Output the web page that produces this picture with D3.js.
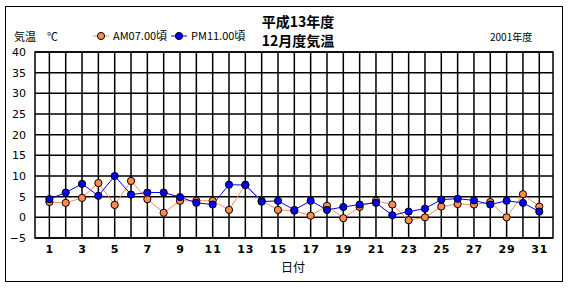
<!DOCTYPE html>
<html lang="ja">
<head>
<meta charset="UTF-8">
<title>12月度気温</title>
<script src="https://d3js.org/d3.v7.min.js"></script>
<style>
  body { margin: 0; background: #fff; }
  text { font-family: "Noto Sans CJK JP", "DejaVu Sans", sans-serif; fill: #000; }
</style>
</head>
<body>
<div id="chart"></div>
<script>
  // days of December
  const days = d3.range(1, 32);
  const amTemps = [3.7, 3.5, 4.7, 8.3, 3.0, 8.8, 4.4, 1.1, 4.0, 4.0,
                   4.0, 1.8, 7.9, 4.0, 1.8, 1.6, 0.4, 2.8, -0.2, 2.5,
                   4.0, 3.1, -0.7, 0.0, 2.6, 3.2, 3.1, 3.7, 0.0, 5.6, 2.6];
  const pmTemps = [4.4, 6.0, 8.1, 5.2, 10.0, 5.5, 6.0, 6.0, 4.9, 3.5,
                   3.1, 7.9, 7.8, 3.8, 4.0, 1.8, 4.0, 1.8, 2.5, 3.1,
                   3.5, 0.5, 1.4, 2.1, 4.3, 4.5, 4.1, 3.1, 4.0, 3.5, 1.4];
  const yTicks = [-5, 0, 5, 10, 15, 20, 25, 30, 35, 40];
  const xLabels = days.filter(d => d % 2 === 1);

  const W = 570, H = 290;
  const svg = d3.select("#chart").append("svg").attr("width", W).attr("height", H);

  // outer frame
  svg.append("rect").attr("x", 5.5).attr("y", 6.5).attr("width", 557).attr("height", 275)
    .attr("fill", "none").attr("stroke", "#000").attr("stroke-width", 1);

  const x = d3.scaleLinear().domain([0.12, 31.84]).range([35, 553]);
  const y = d3.scaleLinear().domain([-5, 40]).range([238, 52]);

  const g = svg.append("g");

  // grid
  g.selectAll(".hg").data(yTicks).join("line")
    .attr("x1", x.range()[0]).attr("x2", x.range()[1])
    .attr("y1", d => y(d)).attr("y2", d => y(d))
    .attr("stroke", "#000").attr("stroke-width", 1.5);
  g.selectAll(".vg").data(days).join("line")
    .attr("x1", d => x(d)).attr("x2", d => x(d))
    .attr("y1", y(40)).attr("y2", y(-5))
    .attr("stroke", "#000").attr("stroke-width", 1.5);
  g.append("rect").attr("x", x.range()[0]).attr("y", y(40))
    .attr("width", x.range()[1] - x.range()[0]).attr("height", y(-5) - y(40))
    .attr("fill", "none").attr("stroke", "#000").attr("stroke-width", 1.5);

  // y axis labels
  const yAxis = d3.axisLeft(y).tickValues(yTicks).tickSize(0).tickPadding(9)
    .tickFormat(d => d < 0 ? "\u2212" + Math.abs(d) : d);
  g.append("g").attr("transform", `translate(${x.range()[0]},0)`).call(yAxis)
    .call(s => s.select(".domain").remove())
    .selectAll("text").style("font-size", "11px").style("font-family", '"DejaVu Sans", sans-serif');

  // x axis labels
  const xAxis = d3.axisBottom(x).tickValues(xLabels).tickSize(0).tickPadding(7).tickFormat(d3.format("d"));
  g.append("g").attr("transform", `translate(0,${y(-5)})`).call(xAxis)
    .call(s => s.select(".domain").remove())
    .selectAll("text").style("font-size", "11px").style("font-weight", "bold")
    .style("font-family", '"DejaVu Sans", sans-serif').style("letter-spacing", "1px");

  const series = [
    { name: "AM07.00頃", values: amTemps, color: "#ff8c4f" },
    { name: "PM11.00頃", values: pmTemps, color: "#0000ff" }
  ];

  const line = d3.line().x((d, i) => x(days[i])).y(d => y(d));

  series.forEach(s => {
    g.append("path").datum(s.values).attr("d", line)
      .attr("fill", "none").attr("stroke", s.color).attr("stroke-width", 1);
  });
  series.forEach(s => {
    g.selectAll(null).data(s.values).join("circle")
      .attr("cx", (d, i) => x(days[i])).attr("cy", d => y(d)).attr("r", 3.6)
      .attr("fill", s.color).attr("stroke", "#000").attr("stroke-width", 1);
  });

  // legend
  const leg = svg.append("g");
  series.forEach((s, i) => {
    const lx = 93 + i * 78;
    leg.append("line").attr("x1", lx).attr("x2", lx + 16).attr("y1", 36).attr("y2", 36)
      .attr("stroke", s.color).attr("stroke-width", 1);
    leg.append("circle").attr("cx", lx + 8).attr("cy", 36).attr("r", 3.6)
      .attr("fill", s.color).attr("stroke", "#000");
    leg.append("text").attr("x", lx + 20).attr("y", 40).style("font-size", "11px").text(s.name);
  });

  svg.append("text").attr("x", 14).attr("y", 41).style("font-size", "11px").text("気温　℃");
  svg.append("text").attr("x", 490).attr("y", 41).style("font-size", "10px").text("2001年度");

  svg.append("text").attr("x", 298).attr("y", 27).attr("text-anchor", "middle")
    .style("font-size", "14px").style("font-weight", "bold").text("平成13年度");
  svg.append("text").attr("x", 298).attr("y", 46).attr("text-anchor", "middle")
    .style("font-size", "14px").style("font-weight", "bold").text("12月度気温");

  svg.append("text").attr("x", 293).attr("y", 272).attr("text-anchor", "middle")
    .style("font-size", "12px").text("日付");
</script>
</body>
</html>
